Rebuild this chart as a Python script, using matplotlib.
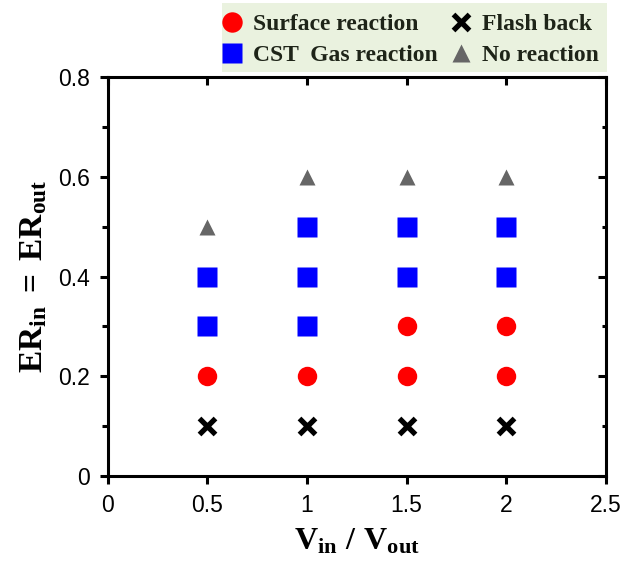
import matplotlib.pyplot as plt
from matplotlib.patches import Rectangle
from matplotlib.ticker import MultipleLocator

# Operating map: velocity ratio vs equivalence ratio
surface_x = [0.5, 1.0, 1.5, 1.5, 2.0, 2.0]
surface_y = [0.2, 0.2, 0.2, 0.3, 0.2, 0.3]

gas_x = [0.5, 0.5, 1.0, 1.0, 1.0, 1.5, 1.5, 2.0, 2.0]
gas_y = [0.3, 0.4, 0.3, 0.4, 0.5, 0.4, 0.5, 0.4, 0.5]

flash_x = [0.5, 1.0, 1.5, 2.0]
flash_y = [0.1, 0.1, 0.1, 0.1]

none_x = [0.5, 1.0, 1.5, 2.0]
none_y = [0.5, 0.6, 0.6, 0.6]

x_ticks = [0, 0.5, 1, 1.5, 2, 2.5]
x_tick_labels = ["0", "0.5", "1", "1.5", "2", "2.5"]
y_ticks = [0, 0.2, 0.4, 0.6, 0.8]
y_tick_labels = ["0", "0.2", "0.4", "0.6", "0.8"]

plt.rcParams["mathtext.fontset"] = "custom"
plt.rcParams["mathtext.rm"] = "Liberation Serif:bold"
plt.rcParams["mathtext.bf"] = "Liberation Serif:bold"
plt.rcParams["mathtext.it"] = "Liberation Serif:bold"

fig = plt.figure(figsize=(6.31, 5.62), dpi=100)
ax = fig.add_axes([0.171, 0.153, 0.789, 0.710])

h_surf, = ax.plot(surface_x, surface_y, "o", color="#ff0000", ms=14, mec="none",
                  label="Surface reaction")
h_gas, = ax.plot(gas_x, gas_y, "s", color="#0000ff", ms=14, mec="none",
                 label="CST  Gas reaction")
h_flash, = ax.plot(flash_x, flash_y, "x", color="black", ms=11, mew=3.8,
                   label="Flash back")
h_none, = ax.plot(none_x, none_y, "^", color="#666666", ms=12, mec="none",
                  label="No reaction")

ax.set_xlim(0, 2.5)
ax.set_ylim(0, 0.8)
ax.set_xticks(x_ticks)
ax.set_xticklabels(x_tick_labels)
ax.set_yticks(y_ticks)
ax.set_yticklabels(y_tick_labels)
ax.yaxis.set_minor_locator(MultipleLocator(0.1))

for sp in ax.spines.values():
    sp.set_linewidth(2.2)

ax.tick_params(axis="both", which="major", direction="out", length=6, width=2.2,
               labelsize=16.5, pad=7)
ax.tick_params(axis="y", which="minor", direction="out", length=4, width=2.2)
for lab in ax.get_xticklabels() + ax.get_yticklabels():
    lab.set_fontfamily("Liberation Sans")

# inward ticks on the top and right spines
top = ax.secondary_xaxis("top")
top.set_xticks(x_ticks)
top.tick_params(direction="in", length=6, width=2.2, labeltop=False)
top.spines["top"].set_visible(False)
right = ax.secondary_yaxis("right")
right.set_yticks(y_ticks)
right.yaxis.set_minor_locator(MultipleLocator(0.1))
right.tick_params(which="major", direction="in", length=6, width=2.2, labelright=False)
right.tick_params(which="minor", direction="in", length=3, width=2.2)
right.spines["right"].set_visible(False)

ax.set_xlabel(r"$\mathrm{V_{in}\ /\ V_{out}}$", fontsize=23, labelpad=6)
ax.set_ylabel(r"$\mathrm{ER_{in}\;=\;ER_{out}}$", fontsize=24, labelpad=6)

# pale green panel behind the legend
fig.patches.append(Rectangle((0.352, 0.872), 0.610, 0.123, transform=fig.transFigure,
                             facecolor="#eaf2df", edgecolor="none", zorder=0))

leg = fig.legend(handles=[h_surf, h_gas, h_flash, h_none], ncol=2,
                 loc="center left", bbox_to_anchor=(0.353, 0.929),
                 prop={"family": "Liberation Serif", "weight": "bold", "size": 17},
                 frameon=False, borderpad=0.0, borderaxespad=0.0,
                 handletextpad=0.5, columnspacing=0.55, labelspacing=0.42,
                 handlelength=0.8, markerscale=1.05)
for t in leg.get_texts():
    t.set_color("#1e2418")

fig.savefig("out.png", dpi=100)
